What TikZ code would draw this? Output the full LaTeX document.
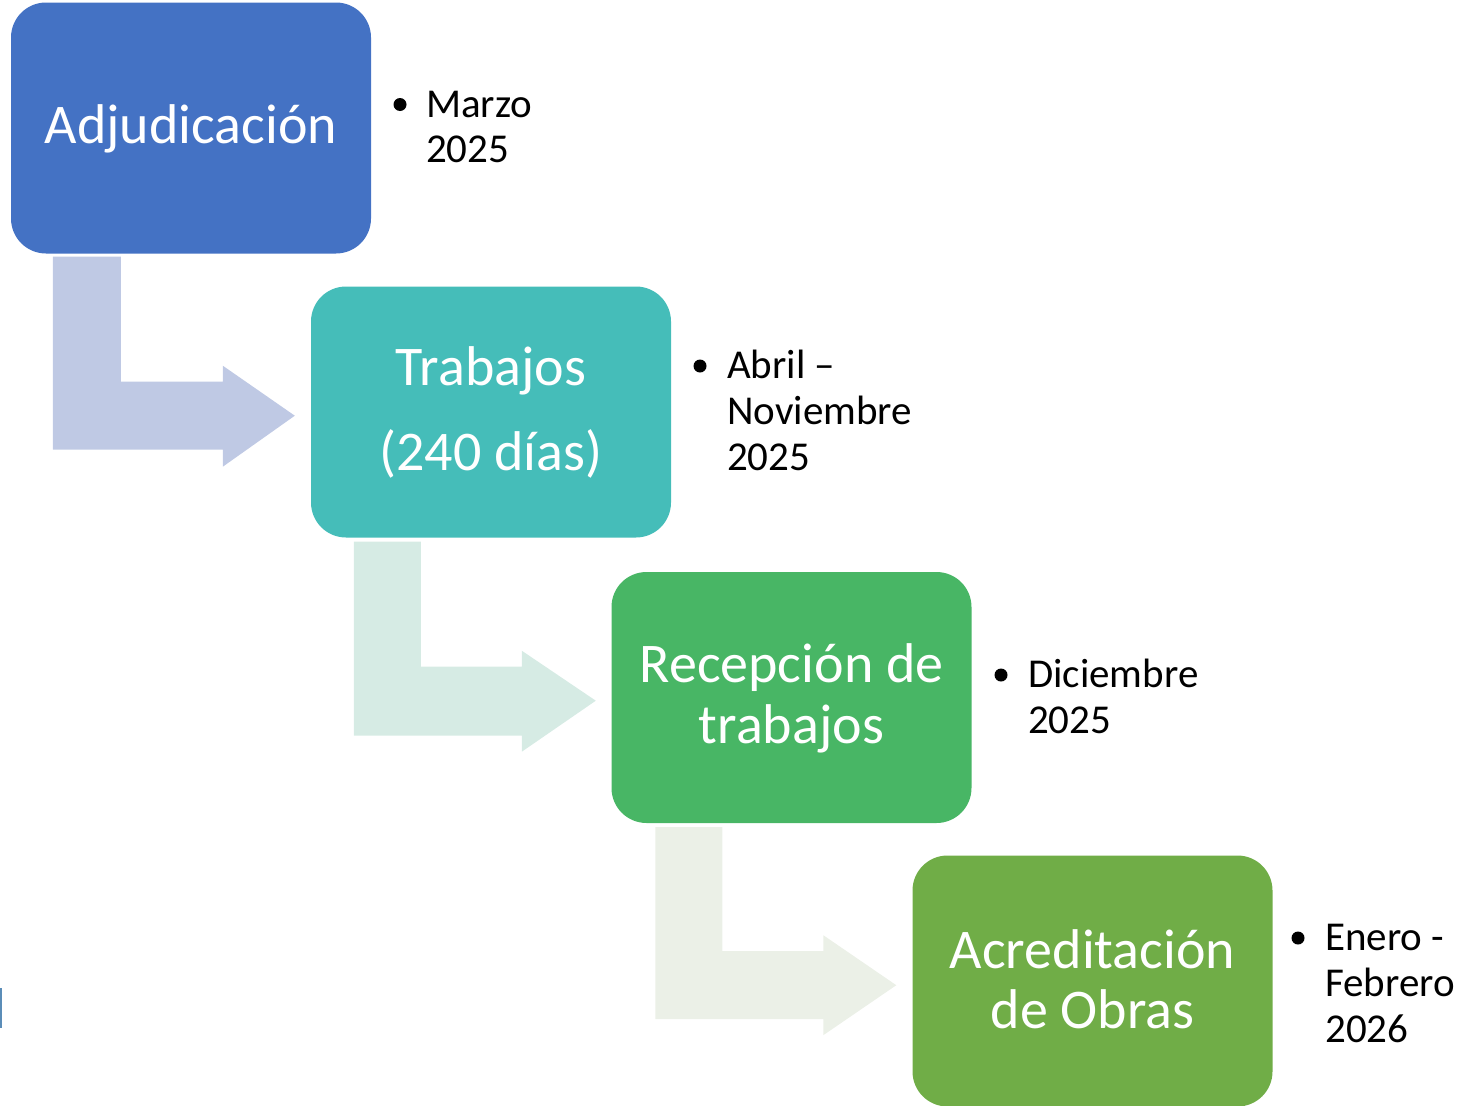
\documentclass[tikz,border=0pt]{standalone}
\usepackage{fontspec}
\setmainfont{Carlito}
\definecolor{cA}{HTML}{4472C4}
\definecolor{cB}{HTML}{45BDB9}
\definecolor{cC}{HTML}{48B665}
\definecolor{cD}{HTML}{70AD47}
\definecolor{aA}{HTML}{BFC9E4}
\definecolor{aB}{HTML}{D6EBE4}
\definecolor{aC}{HTML}{EBF0E7}
\definecolor{edge}{HTML}{5B8DB8}
\tikzset{
  box/.style={rounded corners=35pt, minimum width=360pt, minimum height=251pt, inner sep=0pt},
  boxtext/.style={anchor=base, inner sep=0pt, text=white, font=\fontsize{56}{60}\selectfont},
  sidetext/.style={anchor=base west, inner sep=0pt, text=black, font=\fontsize{41}{46}\selectfont},
  bul/.style={circle, fill=black, inner sep=0pt, minimum size=13pt}
}
\begin{document}
\begin{tikzpicture}[x=1pt,y=-1pt]
\useasboundingbox (0,0) rectangle (1465,1106);
% boxes
\node[box, fill=cA] (b1) at (191,128) {};
\node[box, fill=cB] (b2) at (491,412) {};
\node[box, fill=cC] (b3) at (791.5,697.5) {};
\node[box, fill=cD] (b4) at (1092.5,981) {};
% bent arrows
\fill[aA, shift={(b1.south west)}] (42,3) -- (110,3) -- (110,128) -- (212,128) -- (212,112) -- (284,162) -- (212,213) -- (212,196) -- (42,196) -- cycle;
\fill[aB, shift={(b2.south west)}] (43,4) -- (110,4) -- (110,129) -- (211,129) -- (211,113) -- (285,163) -- (211,214) -- (211,198) -- (43,198) -- cycle;
\fill[aC, shift={(b3.south west)}] (44,4) -- (111,4) -- (111,128) -- (212,128) -- (212,112) -- (285,162) -- (212,212) -- (212,196) -- (44,196) -- cycle;
% box texts
\node[boxtext] (t1) at (191,143) {Adjudicación};
\node[boxtext] (t2a) at (491,385) {Trabajos};
\node[boxtext] (t2b) at (491,470) {(240 días)};
\node[boxtext] (t3a) at (791.5,682) {Recepción de};
\node[boxtext] (t3b) at (791.5,743) {trabajos};
\node[boxtext] (t4a) at (1092.5,968) {Acreditación};
\node[boxtext] (t4b) at (1092.5,1028) {de Obras};
% side bullets
\node[bul] (d1) at (400,104.5) {};
\node[sidetext] (s1a) at (426,117) {Marzo};
\node[sidetext] (s1b) at (426,162) {2025};
\node[bul] (d2) at (700,366) {};
\node[sidetext] (s2a) at (727,378) {Abril –};
\node[sidetext] (s2b) at (727,424) {Noviembre};
\node[sidetext] (s2c) at (727,470) {2025};
\node[bul] (d3) at (1001,675) {};
\node[sidetext] (s3a) at (1028,687) {Diciembre};
\node[sidetext] (s3b) at (1028,733) {2025};
\node[bul] (d4) at (1298,938) {};
\node[sidetext] (s4a) at (1325,950) {Enero -};
\node[sidetext] (s4b) at (1325,996) {Febrero};
\node[sidetext] (s4c) at (1325,1042) {2026};
% edge mark on left
\fill[edge] (0,988) rectangle (1.5,1028);
\end{tikzpicture}
\end{document}
